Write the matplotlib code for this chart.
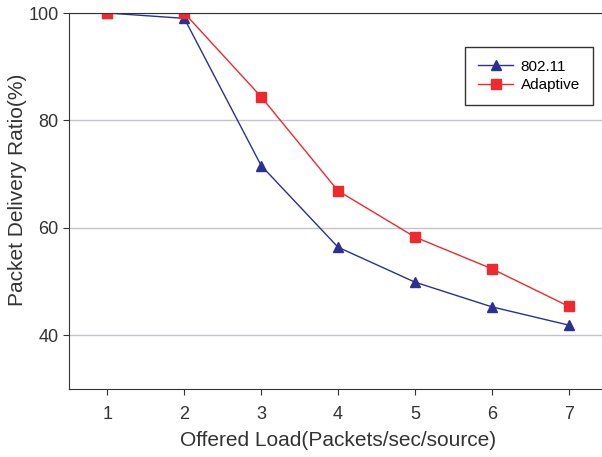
import matplotlib
matplotlib.use("Agg")
import matplotlib.pyplot as plt

plt.rcParams['font.family'] = ['Liberation Sans', 'DejaVu Sans']

loads = [1, 2, 3, 4, 5, 6, 7]
pdr_80211 = [100, 99, 71.6, 56.4, 49.9, 45.3, 41.9]
pdr_adaptive = [100, 100, 84.4, 66.9, 58.3, 52.4, 45.4]

fig = plt.figure(figsize=(6.02, 4.57), dpi=100)
ax = fig.add_axes([69 / 602, 68 / 457, 538 / 602, 376 / 457])

blue = '#2b3192'
red = '#ee2a2e'
ax.plot(loads, pdr_80211, color=blue, lw=1, marker='^', ms=7.5, label='802.11')
ax.plot(loads, pdr_adaptive, color=red, lw=1, marker='s', ms=6.5, label='Adaptive')

ax.set_xlim(0.5, 7.5)
ax.set_ylim(30, 100)
ax.set_xticks(loads)
ax.set_yticks([40, 60, 80, 100])
ax.yaxis.grid(True, color='#c4c4cc', lw=1)
ax.set_axisbelow(True)
ax.spines['right'].set_visible(False)
for s in ['left', 'bottom', 'top']:
    ax.spines[s].set_color('#333333')
ax.tick_params(labelsize=13, color='#333333', labelcolor='#333333', length=4)
ax.tick_params(axis='x', pad=8)

ax.set_xlabel('Offered Load(Packets/sec/source)', fontsize=15, color='#333333', labelpad=6)
ax.set_ylabel('Packet Delivery Ratio(%)', fontsize=15, color='#333333')
ax.yaxis.set_label_coords(-0.078, 0.53)

leg = ax.legend(loc='upper right', bbox_to_anchor=(0.974, 0.91), fontsize=11,
                fancybox=False, edgecolor='#333333', framealpha=1, borderaxespad=0,
                handlelength=2.3, handletextpad=0.5, borderpad=0.85, labelspacing=0.3)
leg.get_frame().set_linewidth(1)

fig.savefig('out.png', dpi=100)
